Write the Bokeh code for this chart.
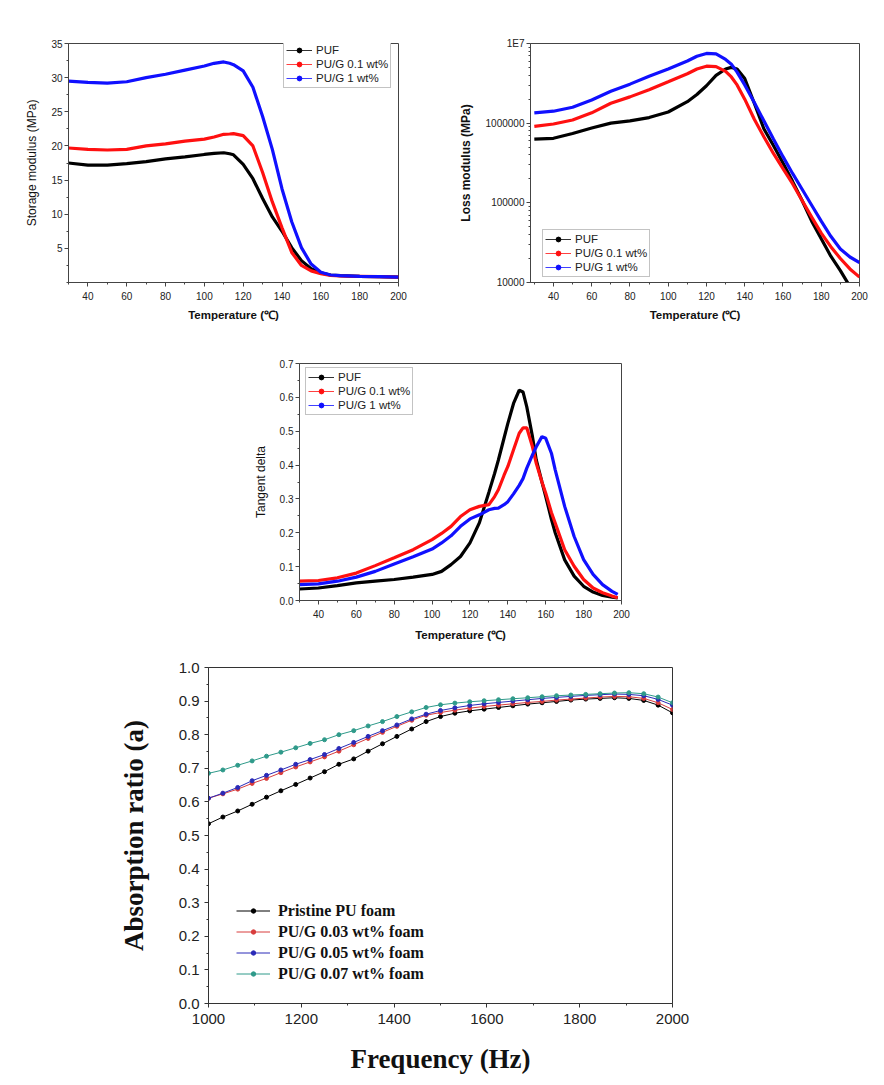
from bokeh.plotting import figure
from bokeh.layouts import column, row
from bokeh.models import (Range1d, FixedTicker, CustomJSTickFormatter,
                          NumeralTickFormatter, Legend, LegendItem, Spacer)
from bokeh.embed import file_html
from bokeh.resources import INLINE

# ---------------- data ----------------
DMA_LABELS = ["PUF", "PU/G 0.1 wt%", "PU/G 1 wt%"]
DMA_COLORS = ["#000000", "#ff1010", "#1010ff"]

# Storage modulus (MPa)
T1 = [30, 40, 50, 60, 70, 80, 90, 100, 105, 110, 113, 115, 120, 125, 130, 135, 140, 145, 150, 155, 160, 165, 170, 180, 190, 200]
E1_PUF = [17.5, 17.2, 17.2, 17.4, 17.7, 18.1, 18.4, 18.75, 18.9, 19.0, 18.85, 18.7, 17.3, 15.2, 12.3, 9.6, 7.5, 5.1, 3.2, 2.0, 1.4, 1.1, 1.0, 0.9, 0.85, 0.8]
E1_G01 = [19.7, 19.5, 19.4, 19.5, 20.0, 20.3, 20.7, 21.0, 21.3, 21.7, 21.75, 21.8, 21.5, 20.0, 16.1, 11.8, 8.0, 4.4, 2.5, 1.7, 1.3, 1.05, 0.95, 0.9, 0.85, 0.8]
E1_G1 = [29.5, 29.3, 29.2, 29.4, 30.0, 30.5, 31.1, 31.7, 32.1, 32.3, 32.1, 31.9, 31.0, 28.6, 24.3, 19.5, 13.7, 8.9, 5.1, 2.7, 1.5, 1.1, 1.0, 0.9, 0.85, 0.8]

# Loss modulus (MPa)
T2 = [30, 40, 50, 60, 70, 80, 90, 100, 110, 115, 120, 125, 130, 133, 136, 140, 145, 150, 155, 160, 165, 170, 175, 180, 185, 190, 195, 200]
E2_PUF = [6.31e5, 6.46e5, 7.41e5, 8.71e5, 1.0e6, 1.07e6, 1.175e6, 1.38e6, 1.86e6, 2.29e6, 2.95e6, 3.98e6, 4.79e6, 5.01e6, 4.79e6, 3.63e6, 1.78e6, 8.51e5, 5.25e5, 3.16e5, 1.86e5, 1.07e5, 5.89e4, 3.55e4, 2.14e4, 1.41e4, 8.9e3, 6.3e3]
E2_G01 = [9.12e5, 9.77e5, 1.096e6, 1.349e6, 1.778e6, 2.138e6, 2.63e6, 3.31e6, 4.17e6, 4.79e6, 5.19e6, 5.13e6, 4.47e6, 3.80e6, 3.02e6, 2.0e6, 1.12e6, 6.76e5, 4.17e5, 2.69e5, 1.74e5, 1.07e5, 6.61e4, 4.17e4, 2.82e4, 2.0e4, 1.48e4, 1.17e4]
E2_G1 = [1.349e6, 1.413e6, 1.585e6, 1.95e6, 2.51e6, 3.09e6, 3.89e6, 4.79e6, 6.03e6, 6.92e6, 7.50e6, 7.41e6, 6.31e6, 5.50e6, 4.37e6, 3.02e6, 1.82e6, 1.07e6, 6.31e5, 3.80e5, 2.34e5, 1.48e5, 9.33e4, 5.89e4, 3.80e4, 2.63e4, 2.09e4, 1.78e4]

# Tangent delta
T3 = [30, 40, 50, 60, 70, 80, 90, 100, 105, 110, 115, 120, 125, 130, 133, 135, 138, 140, 143, 146, 148, 150, 153, 155, 158, 160, 163, 165, 170, 175, 180, 185, 190, 195, 198]
TD_PUF = [0.034, 0.037, 0.044, 0.052, 0.057, 0.062, 0.069, 0.077, 0.086, 0.106, 0.13, 0.17, 0.23, 0.32, 0.375, 0.415, 0.48, 0.523, 0.582, 0.621, 0.616, 0.572, 0.484, 0.415, 0.35, 0.307, 0.24, 0.20, 0.12, 0.072, 0.042, 0.025, 0.015, 0.010, 0.008]
TD_G01 = [0.057, 0.059, 0.067, 0.081, 0.103, 0.126, 0.150, 0.18, 0.198, 0.219, 0.248, 0.268, 0.278, 0.283, 0.307, 0.327, 0.37, 0.396, 0.445, 0.494, 0.51, 0.51, 0.454, 0.405, 0.35, 0.317, 0.26, 0.229, 0.150, 0.101, 0.062, 0.037, 0.023, 0.013, 0.008]
TD_G1 = [0.047, 0.049, 0.057, 0.069, 0.086, 0.108, 0.129, 0.152, 0.17, 0.191, 0.219, 0.241, 0.253, 0.268, 0.272, 0.273, 0.283, 0.292, 0.315, 0.34, 0.36, 0.391, 0.43, 0.454, 0.484, 0.479, 0.435, 0.386, 0.278, 0.189, 0.121, 0.077, 0.047, 0.027, 0.018]

# Sound absorption
FREQ = [1000, 1031, 1063, 1094, 1125, 1156, 1188, 1219, 1250, 1281, 1313, 1344, 1375, 1406, 1438, 1469, 1500,
        1531, 1563, 1594, 1625, 1656, 1688, 1719, 1750, 1781, 1813, 1844, 1875, 1906, 1938, 1969, 2000]
ABS_LABELS = ["Pristine PU foam", "PU/G 0.03 wt% foam", "PU/G 0.05 wt% foam", "PU/G 0.07 wt% foam"]
ABS_COLORS = ["#000000", "#d83c3c", "#2a2ab8", "#2f9a8a"]
ABS_PRISTINE = [0.535, 0.555, 0.573, 0.593, 0.614, 0.633, 0.652, 0.671, 0.690, 0.712, 0.728, 0.751, 0.773, 0.795, 0.817, 0.839, 0.854,
                0.864, 0.871, 0.876, 0.881, 0.886, 0.891, 0.895, 0.899, 0.903, 0.906, 0.908, 0.910, 0.908, 0.902, 0.888, 0.865]
ABS_003 = [0.611, 0.624, 0.638, 0.655, 0.670, 0.687, 0.704, 0.719, 0.734, 0.751, 0.770, 0.789, 0.807, 0.825, 0.843, 0.858, 0.866,
           0.873, 0.879, 0.884, 0.888, 0.892, 0.896, 0.899, 0.903, 0.906, 0.909, 0.912, 0.914, 0.913, 0.908, 0.895, 0.875]
ABS_005 = [0.611, 0.626, 0.643, 0.663, 0.679, 0.695, 0.712, 0.726, 0.741, 0.759, 0.777, 0.795, 0.812, 0.829, 0.847, 0.861, 0.872,
           0.880, 0.887, 0.892, 0.896, 0.900, 0.904, 0.908, 0.911, 0.914, 0.917, 0.919, 0.921, 0.920, 0.916, 0.905, 0.888]
ABS_007 = [0.685, 0.695, 0.709, 0.722, 0.736, 0.748, 0.761, 0.774, 0.785, 0.800, 0.812, 0.826, 0.839, 0.854, 0.868, 0.881, 0.889,
           0.894, 0.898, 0.901, 0.904, 0.907, 0.910, 0.913, 0.916, 0.918, 0.920, 0.922, 0.924, 0.925, 0.922, 0.912, 0.895]

# tick labels
TEMP_TICKS = [40, 60, 80, 100, 120, 140, 160, 180, 200]
E1_TICKS = [5, 10, 15, 20, 25, 30, 35]
E2_TICKS = [1e4, 1e5, 1e6, 1e7]
TD_TICKS = [0.0, 0.1, 0.2, 0.3, 0.4, 0.5, 0.6, 0.7]
FREQ_TICKS = [1000, 1200, 1400, 1600, 1800, 2000]
ABS_TICKS = [0.0, 0.1, 0.2, 0.3, 0.4, 0.5, 0.6, 0.7, 0.8, 0.9, 1.0]

SANS = "Liberation Sans"
SERIF = "Liberation Serif"
AX = "#444444"
NAN = float("nan")


def base_style(p, tick_fs, color=AX):
    p.xgrid.visible = False
    p.ygrid.visible = False
    p.outline_line_color = color
    p.outline_line_width = 1
    p.background_fill_color = "white"
    p.border_fill_color = "white"
    for ax in (p.xaxis[0], p.yaxis[0]):
        ax.axis_line_color = color
        ax.major_tick_line_color = color
        ax.minor_tick_line_color = color
        ax.major_tick_in = 0
        ax.major_tick_out = 4
        ax.minor_tick_in = 0
        ax.minor_tick_out = 2
        ax.major_label_text_font = SANS
        ax.major_label_text_font_size = tick_fs
        ax.major_label_text_color = "#222222"
        ax.axis_label_text_color = "#111111"


def minor(ticks, lo, hi, step):
    out = []
    v = lo
    while v <= hi + 1e-9:
        if all(abs(v - t) > 1e-9 for t in ticks):
            out.append(v)
        v += step
    return out


def dma_legend(p, loc, pad=2):
    items = []
    for lab, col in zip(DMA_LABELS, DMA_COLORS):
        lr = p.line(x=[NAN], y=[NAN], line_color=col, line_width=1, line_alpha=0.8)
        dr = p.scatter(x=[NAN], y=[NAN], marker="circle", size=4, fill_color=col, line_color=col)
        items.append(LegendItem(label=lab, renderers=[lr, dr]))
    leg = Legend(items=items, location=loc, margin=0, padding=pad, spacing=0,
                 glyph_width=26, glyph_height=12, label_height=14, label_standoff=4,
                 label_text_font=SANS, label_text_font_size="11.5px", label_text_color="#222222",
                 border_line_color="#888888", border_line_width=1, background_fill_color="white",
                 background_fill_alpha=1.0)
    p.add_layout(leg, "center")


def temp_axis(p, standoff):
    p.xaxis.ticker = FixedTicker(ticks=TEMP_TICKS, minor_ticks=minor(TEMP_TICKS, 30, 200, 10))
    p.xaxis.axis_label = "Temperature (℃)"
    p.xaxis.axis_label_text_font = SANS
    p.xaxis.axis_label_text_font_style = "bold"
    p.xaxis.axis_label_text_font_size = "11.5px"
    p.xaxis.axis_label_standoff = standoff


# ---------------- panel 1: storage modulus ----------------
p1 = figure(width=440, height=330, x_range=Range1d(30, 200), y_range=Range1d(0, 35),
            output_backend="svg", toolbar_location=None,
            min_border_left=68, min_border_right=42, min_border_top=39, min_border_bottom=48)
base_style(p1, "10px")
for ys, col in zip([E1_PUF, E1_G01, E1_G1], DMA_COLORS):
    p1.line(T1, ys, line_color=col, line_width=3.2)
temp_axis(p1, 6)
p1.yaxis.ticker = FixedTicker(ticks=E1_TICKS, minor_ticks=minor(E1_TICKS, 0, 35, 2.5))
p1.yaxis.major_label_standoff = 2
p1.yaxis.axis_label = "Storage modulus (MPa)"
p1.yaxis.axis_label_text_font = SANS
p1.yaxis.axis_label_text_font_style = "normal"
p1.yaxis.axis_label_text_font_size = "12px"
p1.yaxis.axis_label_standoff = 9
dma_legend(p1, (215, 194))

# ---------------- panel 2: loss modulus ----------------
p2 = figure(width=444, height=330, x_range=Range1d(28, 200), y_range=Range1d(1e4, 1e7),
            y_axis_type="log", output_backend="svg", toolbar_location=None,
            min_border_left=90, min_border_right=25, min_border_top=43, min_border_bottom=46)
base_style(p2, "10px")
for ys, col in zip([E2_PUF, E2_G01, E2_G1], DMA_COLORS):
    p2.line(T2, ys, line_color=col, line_width=3.2)
temp_axis(p2, 6)
minor_log = [m * d for d in [1e4, 1e5, 1e6] for m in range(2, 10)]
p2.yaxis.ticker = FixedTicker(ticks=E2_TICKS, minor_ticks=minor_log)
p2.yaxis.formatter = CustomJSTickFormatter(code="return tick >= 1e7 ? '1E7' : Math.round(tick).toString();")
p2.yaxis.major_label_standoff = 2
p2.yaxis.axis_label = "Loss modulus (MPa)"
p2.yaxis.axis_label_text_font = SANS
p2.yaxis.axis_label_text_font_style = "bold"
p2.yaxis.axis_label_text_font_size = "12px"
p2.yaxis.axis_label_standoff = 10
dma_legend(p2, (12, 5))

# ---------------- panel 3: tan delta ----------------
p3 = figure(width=400, height=320, x_range=Range1d(30, 200), y_range=Range1d(0, 0.7),
            output_backend="svg", toolbar_location=None,
            min_border_left=49, min_border_right=29, min_border_top=33, min_border_bottom=50)
base_style(p3, "10px")
for ys, col in zip([TD_PUF, TD_G01, TD_G1], DMA_COLORS):
    p3.line(T3, ys, line_color=col, line_width=3.2)
temp_axis(p3, 8)
p3.yaxis.ticker = FixedTicker(ticks=TD_TICKS, minor_ticks=minor(TD_TICKS, 0, 0.7, 0.05))
p3.yaxis.formatter = NumeralTickFormatter(format="0.0")
p3.yaxis.major_label_standoff = 2
p3.yaxis.axis_label = "Tangent delta"
p3.yaxis.axis_label_text_font = SANS
p3.yaxis.axis_label_text_font_style = "normal"
p3.yaxis.axis_label_text_font_size = "12px"
p3.yaxis.axis_label_standoff = 9
dma_legend(p3, (6, 185))

# ---------------- panel 4: absorption ----------------
p4 = figure(width=684, height=435, x_range=Range1d(1000, 2000), y_range=Range1d(0, 1.0),
            output_backend="svg", toolbar_location=None,
            min_border_left=108, min_border_right=112, min_border_top=17, min_border_bottom=82)
base_style(p4, "15px", color="#333333")
items = []
for lab, ys, col in zip(ABS_LABELS, [ABS_PRISTINE, ABS_003, ABS_005, ABS_007], ABS_COLORS):
    lr = p4.line(FREQ, ys, line_color=col, line_width=1)
    sr = p4.scatter(FREQ, ys, marker="circle", size=4, fill_color=col, line_color=col)
    items.append(LegendItem(label=lab, renderers=[lr, sr]))
p4.xaxis.ticker = FixedTicker(ticks=FREQ_TICKS, minor_ticks=minor(FREQ_TICKS, 1000, 2000, 100))
p4.yaxis.ticker = FixedTicker(ticks=ABS_TICKS, minor_ticks=minor(ABS_TICKS, 0, 1.0, 0.05))
p4.yaxis.formatter = NumeralTickFormatter(format="0.0")
p4.xaxis.major_label_standoff = 6
p4.yaxis.major_label_standoff = 5
for ax, lab, so in ((p4.xaxis, "Frequency (Hz)", 17), (p4.yaxis, "Absorption ratio (a)", 27)):
    ax.axis_label = lab
    ax.axis_label_text_font = SERIF
    ax.axis_label_text_font_style = "bold"
    ax.axis_label_text_font_size = "27px"
    ax.axis_label_standoff = so
leg4 = Legend(items=items, location=(28, 19), margin=0, padding=0, spacing=0,
              glyph_width=34, glyph_height=11, label_height=21, label_standoff=8,
              label_text_font=SERIF, label_text_font_style="bold", label_text_font_size="16px",
              label_text_color="#111111", border_line_color=None, background_fill_alpha=0)
p4.add_layout(leg4, "center")

layout = column(
    row(p1, p2),
    row(Spacer(width=250, height=320), p3),
    row(Spacer(width=100, height=435), p4),
)

open("out.html", "w").write(file_html(layout, INLINE))
